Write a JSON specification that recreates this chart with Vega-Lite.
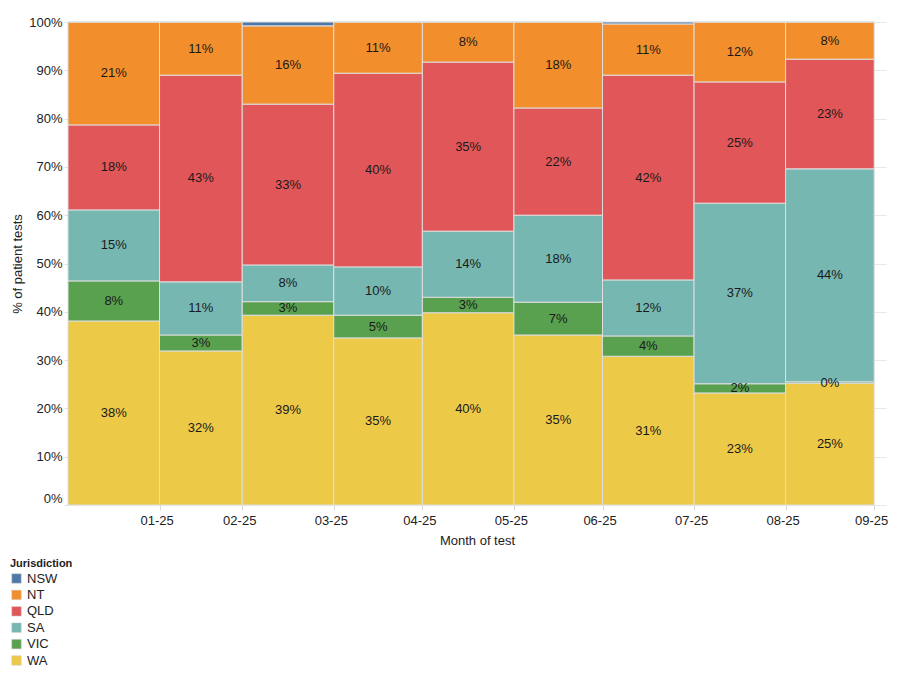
{
  "$schema": "https://vega.github.io/schema/vega-lite/v6.json",
  "autosize": {"type": "none"},
  "padding": {"left": 68, "top": 22, "right": 14, "bottom": 178},
  "width": 818,
  "height": 483,
  "background": "white",
  "config": {
    "font": "Liberation Sans",
    "view": {"stroke": null},
    "axis": {"labelFont": "Liberation Sans", "titleFont": "Liberation Sans", "labelColor": "#222", "titleColor": "#222", "titleFontWeight": "normal"}
  },
  "data": {
    "values": [
      {"month": "2025-01-01", "next": "2025-02-01", "j": "WA", "pct": 38.1},
      {"month": "2025-01-01", "next": "2025-02-01", "j": "VIC", "pct": 8.3},
      {"month": "2025-01-01", "next": "2025-02-01", "j": "SA", "pct": 14.7},
      {"month": "2025-01-01", "next": "2025-02-01", "j": "QLD", "pct": 17.6},
      {"month": "2025-01-01", "next": "2025-02-01", "j": "NT", "pct": 21.3},
      {"month": "2025-01-01", "next": "2025-02-01", "j": "NSW", "pct": 0},
      {"month": "2025-02-01", "next": "2025-03-01", "j": "WA", "pct": 31.9},
      {"month": "2025-02-01", "next": "2025-03-01", "j": "VIC", "pct": 3.3},
      {"month": "2025-02-01", "next": "2025-03-01", "j": "SA", "pct": 11.0},
      {"month": "2025-02-01", "next": "2025-03-01", "j": "QLD", "pct": 42.8},
      {"month": "2025-02-01", "next": "2025-03-01", "j": "NT", "pct": 11.0},
      {"month": "2025-02-01", "next": "2025-03-01", "j": "NSW", "pct": 0},
      {"month": "2025-03-01", "next": "2025-04-01", "j": "WA", "pct": 39.3},
      {"month": "2025-03-01", "next": "2025-04-01", "j": "VIC", "pct": 2.8},
      {"month": "2025-03-01", "next": "2025-04-01", "j": "SA", "pct": 7.6},
      {"month": "2025-03-01", "next": "2025-04-01", "j": "QLD", "pct": 33.3},
      {"month": "2025-03-01", "next": "2025-04-01", "j": "NT", "pct": 16.2},
      {"month": "2025-03-01", "next": "2025-04-01", "j": "NSW", "pct": 0.8},
      {"month": "2025-04-01", "next": "2025-05-01", "j": "WA", "pct": 34.6},
      {"month": "2025-04-01", "next": "2025-05-01", "j": "VIC", "pct": 4.7},
      {"month": "2025-04-01", "next": "2025-05-01", "j": "SA", "pct": 10.0},
      {"month": "2025-04-01", "next": "2025-05-01", "j": "QLD", "pct": 40.1},
      {"month": "2025-04-01", "next": "2025-05-01", "j": "NT", "pct": 10.6},
      {"month": "2025-04-01", "next": "2025-05-01", "j": "NSW", "pct": 0},
      {"month": "2025-05-01", "next": "2025-06-01", "j": "WA", "pct": 39.8},
      {"month": "2025-05-01", "next": "2025-06-01", "j": "VIC", "pct": 3.2},
      {"month": "2025-05-01", "next": "2025-06-01", "j": "SA", "pct": 13.7},
      {"month": "2025-05-01", "next": "2025-06-01", "j": "QLD", "pct": 35.0},
      {"month": "2025-05-01", "next": "2025-06-01", "j": "NT", "pct": 8.3},
      {"month": "2025-05-01", "next": "2025-06-01", "j": "NSW", "pct": 0},
      {"month": "2025-06-01", "next": "2025-07-01", "j": "WA", "pct": 35.2},
      {"month": "2025-06-01", "next": "2025-07-01", "j": "VIC", "pct": 6.8},
      {"month": "2025-06-01", "next": "2025-07-01", "j": "SA", "pct": 18.0},
      {"month": "2025-06-01", "next": "2025-07-01", "j": "QLD", "pct": 22.2},
      {"month": "2025-06-01", "next": "2025-07-01", "j": "NT", "pct": 17.8},
      {"month": "2025-06-01", "next": "2025-07-01", "j": "NSW", "pct": 0},
      {"month": "2025-07-01", "next": "2025-08-01", "j": "WA", "pct": 30.8},
      {"month": "2025-07-01", "next": "2025-08-01", "j": "VIC", "pct": 4.2},
      {"month": "2025-07-01", "next": "2025-08-01", "j": "SA", "pct": 11.6},
      {"month": "2025-07-01", "next": "2025-08-01", "j": "QLD", "pct": 42.4},
      {"month": "2025-07-01", "next": "2025-08-01", "j": "NT", "pct": 10.6},
      {"month": "2025-07-01", "next": "2025-08-01", "j": "NSW", "pct": 0.4},
      {"month": "2025-08-01", "next": "2025-09-01", "j": "WA", "pct": 23.2},
      {"month": "2025-08-01", "next": "2025-09-01", "j": "VIC", "pct": 1.9},
      {"month": "2025-08-01", "next": "2025-09-01", "j": "SA", "pct": 37.4},
      {"month": "2025-08-01", "next": "2025-09-01", "j": "QLD", "pct": 25.1},
      {"month": "2025-08-01", "next": "2025-09-01", "j": "NT", "pct": 12.4},
      {"month": "2025-08-01", "next": "2025-09-01", "j": "NSW", "pct": 0},
      {"month": "2025-09-01", "next": "2025-10-01", "j": "WA", "pct": 25.2},
      {"month": "2025-09-01", "next": "2025-10-01", "j": "VIC", "pct": 0.3},
      {"month": "2025-09-01", "next": "2025-10-01", "j": "SA", "pct": 44.1},
      {"month": "2025-09-01", "next": "2025-10-01", "j": "QLD", "pct": 22.7},
      {"month": "2025-09-01", "next": "2025-10-01", "j": "NT", "pct": 7.7},
      {"month": "2025-09-01", "next": "2025-10-01", "j": "NSW", "pct": 0}
    ]
  },
  "transform": [
    {"stack": "pct", "groupby": ["month"], "sort": [{"field": "j", "order": "descending"}], "as": ["y0", "y1"]}
  ],
  "layer": [
    {
      "mark": {"type": "bar", "stroke": "#dedede", "strokeWidth": 1},
      "encoding": {
        "x": {
          "field": "month", "type": "temporal",
          "scale": {"type": "utc", "domain": [{"year": 2025, "month": 1, "date": 1, "utc": true}, {"year": 2025, "month": 10, "date": 5, "utc": true}]},
          "axis": {
            "title": "Month of test",
            "titleFontSize": 13,
            "titlePadding": 7,
            "labelFontSize": 13,
            "labelOffset": -3,
            "labelPadding": 4,
            "grid": false,
            "domain": false,
            "tickColor": "#d9d9d9",
            "tickSize": 5,
            "values": [
              {"year": 2025, "month": 2, "date": 1, "utc": true},
              {"year": 2025, "month": 3, "date": 1, "utc": true},
              {"year": 2025, "month": 4, "date": 1, "utc": true},
              {"year": 2025, "month": 5, "date": 1, "utc": true},
              {"year": 2025, "month": 6, "date": 1, "utc": true},
              {"year": 2025, "month": 7, "date": 1, "utc": true},
              {"year": 2025, "month": 8, "date": 1, "utc": true},
              {"year": 2025, "month": 9, "date": 1, "utc": true},
              {"year": 2025, "month": 10, "date": 1, "utc": true}
            ],
            "labelExpr": "utcFormat(datum.value - 86400000, '%m-%y')"
          }
        },
        "x2": {"field": "next"},
        "y": {
          "field": "y0", "type": "quantitative",
          "scale": {"domain": [0, 100], "nice": false},
          "axis": {
            "title": "% of patient tests",
            "titleFontSize": 13,
            "titlePadding": 4,
            "labelFontSize": 13,
            "values": [0, 10, 20, 30, 40, 50, 60, 70, 80, 90, 100],
            "labelExpr": "datum.value + '%'",
            "labelBaseline": {"condition": {"test": "datum.value == 0", "value": "bottom"}, "value": "middle"},
            "grid": true,
            "gridColor": "#e8e8e8",
            "domainColor": "#eeeeee",
            "tickColor": "#e0e0e0",
            "tickSize": 4
          }
        },
        "y2": {"field": "y1"},
        "color": {
          "field": "j", "type": "nominal",
          "scale": {"domain": ["NSW", "NT", "QLD", "SA", "VIC", "WA"], "range": ["#4e79a7", "#f28e2b", "#e15759", "#76b7b2", "#59a14f", "#edc948"]},
          "legend": {
            "title": "Jurisdiction",
            "orient": "none",
            "legendX": -58,
            "legendY": 536,
            "titleFontSize": 11,
            "titleFontWeight": "bold",
            "titleColor": "#222",
            "titlePadding": 3,
            "labelFontSize": 13,
            "labelColor": "#222",
            "labelFont": "Liberation Sans",
            "titleFont": "Liberation Sans",
            "symbolType": "square",
            "symbolSize": 90,
            "symbolStrokeColor": "#cccccc",
            "symbolStrokeWidth": 0.5,
            "rowPadding": 2.4,
            "labelOffset": 4
          }
        }
      }
    },
    {
      "transform": [
        {"filter": "datum.j != 'NSW'"},
        {"calculate": "(datum.y0 + datum.y1) / 2", "as": "ymid"},
        {"calculate": "round(datum.pct) + '%'", "as": "lbl"}
      ],
      "mark": {"type": "text", "fontSize": 13, "color": "#1a1a1a", "font": "Liberation Sans"},
      "encoding": {
        "x": {"field": "month", "type": "temporal", "timeUnit": "utcyearmonth", "bandPosition": 0.5},
        "y": {"field": "ymid", "type": "quantitative"},
        "text": {"field": "lbl"}
      }
    }
  ]
}
